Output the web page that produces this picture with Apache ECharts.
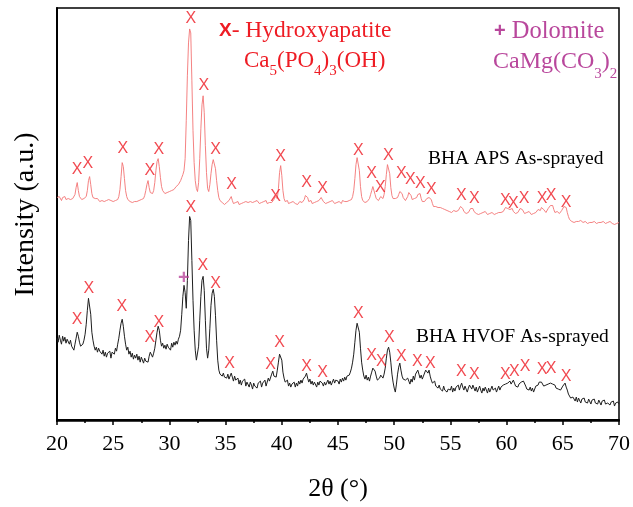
<!DOCTYPE html>
<html><head><meta charset="utf-8">
<script src="https://cdn.jsdelivr.net/npm/echarts@6/dist/echarts.min.js"></script>
<style>html,body{margin:0;padding:0;background:#fff}#c{width:633px;height:507px}</style>
</head><body><div id="c"></div><script>
// 2θ sampling grid (degrees)
const thetaStart = 20, thetaStep = 0.1;
// BHA APS As-sprayed intensity (a.u.), one value per 0.1°, 20°..70°
const apsIntensity = [
223,221,224,222,220,223,222,224,221,223,
222,224,221,223,222,221,226,233,238,230,
224,222,221,223,222,221,224,230,240,244,
236,227,223,221,222,220,222,221,219,221,
220,222,219,221,220,218,221,219,220,222,
219,221,220,222,221,224,231,244,258,254,
242,230,224,221,220,219,221,218,220,219,
217,219,218,220,218,221,219,222,225,230,
236,240,233,228,226,227,230,238,250,259,
262,254,243,234,230,228,227,229,228,230,
229,231,230,232,231,233,234,233,236,238,
240,243,246,250,262,300,345,378,392,388,
340,290,258,240,232,229,238,262,292,316,
325,308,275,248,232,229,236,247,256,261,
262,252,240,230,223,220,219,218,217,216,
216,218,217,220,222,224,220,217,216,218,
217,219,216,218,217,215,218,216,219,217,
218,216,219,217,218,216,219,217,220,218,
217,219,218,216,219,218,220,217,219,218,
219,218,220,221,224,222,222,232,248,255,
245,230,222,219,218,220,217,219,218,217,
219,218,217,219,216,218,219,217,218,220,
221,225,227,223,219,218,220,217,219,218,
217,219,218,220,221,223,221,219,218,217,
219,218,217,219,218,220,218,217,219,218,
217,219,218,217,220,218,219,217,219,218,
220,219,221,224,230,242,256,263,264,250,
234,224,220,219,218,220,219,221,222,226,
230,234,232,226,222,221,220,222,224,223,
222,226,234,246,256,258,247,233,225,222,
221,222,223,223,226,229,231,227,223,221,
220,222,224,228,229,225,221,220,222,224,
223,226,228,227,222,219,218,219,221,222,
222,223,224,221,217,214,213,214,212,213,
212,213,211,212,210,211,212,210,211,209,
210,208,209,210,208,209,208,210,212,214,
215,212,209,208,207,209,208,210,212,211,
212,209,209,207,208,206,208,207,209,208,
207,209,208,206,208,207,209,208,207,206,
208,207,209,208,206,208,207,209,211,213,
214,212,210,211,213,212,209,208,207,209,
208,210,212,213,211,209,207,206,208,207,
209,207,206,208,207,209,208,210,211,212,
210,213,214,211,209,208,210,212,214,215,
216,215,211,208,207,209,208,207,209,210,
212,214,215,213,208,204,201,200,199,200,
198,200,199,197,199,198,200,199,198,197,
199,198,197,199,198,200,198,197,199,198,
197,199,198,196,198,197,199,198,197,199,
198,197,199,198,197,198,196,198,197,199,
198];
// BHA HVOF As-sprayed intensity (a.u.), one value per 0.1°, 20°..70°
const hvofIntensity = [
82,78,85,80,76,84,79,83,77,81,
79,76,80,74,72,70,76,82,88,84,
78,74,72,76,80,86,96,110,122,123,
106,88,80,74,70,73,68,72,69,71,
66,70,64,68,63,67,65,69,62,68,
70,66,72,69,76,82,90,97,101,94,
84,76,70,73,66,69,63,67,61,65,
62,66,60,64,58,63,61,57,62,59,
61,58,64,68,66,63,67,72,80,88,
94,90,80,74,77,72,75,71,76,73,
74,70,77,73,78,75,79,76,81,84,
90,106,124,135,128,112,140,180,204,200,
160,120,90,70,60,58,74,100,124,140,
144,130,100,72,62,70,92,115,127,131,
124,105,80,60,50,46,48,44,47,43,
45,42,46,41,44,47,43,39,44,40,
38,42,36,40,35,39,37,41,34,38,
36,33,38,35,31,37,34,36,32,37,
35,39,33,37,36,40,34,38,42,39,
41,46,49,44,46,43,50,58,66,68,
60,48,42,38,36,40,34,37,33,36,
35,38,33,37,34,39,36,40,37,41,
39,44,47,42,38,41,36,39,35,38,
36,33,38,35,39,41,37,34,38,35,
37,40,36,39,35,38,41,37,40,38,
39,36,41,38,42,39,43,40,44,46,
45,48,52,58,66,78,90,97,98,88,
72,58,50,44,41,45,40,43,39,44,
48,52,54,49,44,40,38,42,45,43,
42,46,52,62,70,73,68,58,46,38,
32,28,36,46,53,57,50,44,41,43,
40,38,42,39,36,41,38,44,40,46,
48,50,46,42,45,41,44,46,50,48,
47,50,44,40,37,35,39,34,36,32,
35,31,33,29,34,30,32,28,31,33,
30,34,28,32,29,33,31,35,30,34,
37,33,30,34,31,28,32,35,34,31,
35,32,29,33,28,31,34,30,27,32,
29,33,30,27,32,28,31,34,30,29,
32,28,31,34,30,33,31,35,33,36,
34,37,35,39,36,38,40,37,34,36,
33,36,35,38,36,39,37,34,31,33,
30,33,29,32,28,31,34,36,35,38,
36,38,37,34,32,35,33,36,38,37,
39,36,38,35,32,34,31,33,30,32,
34,36,37,33,30,26,24,22,20,23,
21,19,23,18,22,20,17,21,19,22,
18,20,17,21,19,16,20,18,21,17,
19,16,20,18,15,19,17,20,16,18,
17,19,15,18,16,19,14,17,15,18,
16];
// Hydroxyapatite peak marks [2θ, label height]
const apsPeakMarks = [[21.78,251],[22.75,257],[25.86,272],[28.26,250],[29.06,271],[31.90,402],[33.06,335],[34.12,271],[35.54,236],[39.45,224],[39.89,264],[42.20,238],[43.62,232],[46.82,270],[47.98,247],[48.77,233],[49.48,265],[50.64,247],[51.44,241],[52.33,237],[53.30,231],[55.97,225],[57.12,222],[59.88,220],[60.59,217],[61.56,222],[63.16,222],[63.96,225],[65.29,218]];
const hvofPeakMarks = [[21.78,101],[22.84,132],[25.77,114],[28.26,83],[29.06,98],[31.90,213],[32.97,155],[34.12,137],[35.36,57],[39.01,56],[39.80,78],[42.20,54],[43.62,48],[46.82,107],[47.98,65],[48.86,59],[49.57,83],[50.64,64],[52.06,59],[53.21,57],[55.97,49],[57.12,46],[59.88,46],[60.68,49],[61.65,54],[63.16,51],[63.96,52],[65.29,44]];
// Dolomite peak mark
const dolomiteMarks = [[31.28,142]];
// x-axis ticks
const xMin = 20, xMax = 70, xInterval = 5;

const grid2 = (arr) => arr.map((v, i) => [+(thetaStart + i * thetaStep).toFixed(2), v]);
const RED = '#ee1c24', PURPLE = '#b9479c';
const serif = 'Liberation Serif';

const chart = echarts.init(document.getElementById('c'), null, {renderer: 'canvas'});
const markLabel = (txt, color, size, weight) => ({
  show: true, position: 'inside', formatter: txt, color: color,
  fontSize: size, fontWeight: weight, fontFamily: 'Liberation Sans'
});
chart.setOption({
  animation: false,
  backgroundColor: '#fff',
  grid: {left: 57, right: 13, top: 8, bottom: 85, show: true, borderColor: '#000', borderWidth: 1.5},
  xAxis: {
    type: 'value', min: xMin, max: xMax, interval: xInterval,
    axisLine: {lineStyle: {color: '#000', width: 2}},
    axisTick: {inside: false, length: 5, lineStyle: {color: '#000', width: 1.5}},
    minorTick: {show: true, splitNumber: 2, length: 3, lineStyle: {color: '#000', width: 1.5}},
    axisLabel: {margin: 12, fontSize: 22, fontFamily: serif, color: '#000'},
    splitLine: {show: false},
    name: '2θ (°)', nameLocation: 'middle', nameGap: 55,
    nameTextStyle: {fontSize: 26, fontFamily: serif, color: '#000'}
  },
  yAxis: {
    type: 'value', min: -1, max: 413,
    axisLine: {show: true, lineStyle: {color: '#000', width: 2}},
    axisTick: {show: false}, axisLabel: {show: false}, splitLine: {show: false},
    name: 'Intensity (a.u.)', nameLocation: 'middle', nameGap: 17,
    nameTextStyle: {fontSize: 28, fontFamily: serif, color: '#000'}
  },
  series: [
    {type: 'line', data: grid2(apsIntensity), showSymbol: false, sampling: 'none',
     lineStyle: {color: '#f37474', width: 0.9}, z: 2},
    {type: 'line', data: grid2(hvofIntensity), showSymbol: false, sampling: 'none',
     lineStyle: {color: '#1e1e1e', width: 1}, z: 2},
    {type: 'scatter', data: apsPeakMarks.concat(hvofPeakMarks), symbolSize: 1,
     itemStyle: {color: 'rgba(0,0,0,0)'}, label: markLabel('X', RED, 16, 'normal'), z: 3},
    {type: 'scatter', data: dolomiteMarks, symbolSize: 1,
     itemStyle: {color: 'rgba(0,0,0,0)'}, label: markLabel('+', PURPLE, 20, 'bold'), z: 3}
  ],
  graphic: [
    {type: 'text', left: 219, top: 19, style: {
      text: '{b|X}{m|- Hydroxyapatite}',
      rich: {b: {fontFamily: 'Liberation Sans', fontWeight: 'bold', fontSize: 19, fill: RED},
             m: {fontFamily: serif, fontSize: 23.5, fill: RED}}}},
    {type: 'text', left: 244, top: 49, style: {
      text: '{m|Ca}{s|5}{m|(PO}{s|4}{m|)}{s|3}{m|(OH)}',
      rich: {m: {fontFamily: serif, fontSize: 23, fill: RED, verticalAlign: 'top'},
             s: {fontFamily: serif, fontSize: 15, fill: RED, verticalAlign: 'bottom', lineHeight: 30}}}},
    {type: 'text', left: 494, top: 19, style: {
      text: '{b|+}{m| Dolomite}',
      rich: {b: {fontFamily: 'Liberation Sans', fontWeight: 'bold', fontSize: 20, fill: PURPLE},
             m: {fontFamily: serif, fontSize: 24.5, fill: PURPLE}}}},
    {type: 'text', left: 493, top: 50, style: {
      text: '{m|CaMg(CO}{s|3}{m|)}{s|2}',
      rich: {m: {fontFamily: serif, fontSize: 24, fill: PURPLE, verticalAlign: 'top'},
             s: {fontFamily: serif, fontSize: 15, fill: PURPLE, verticalAlign: 'bottom', lineHeight: 32}}}},
    {type: 'text', left: 428, top: 149, style: {text: 'BHA APS As-sprayed', fontFamily: serif, fontSize: 19.5, fill: '#000'}},
    {type: 'text', left: 416, top: 327, style: {text: 'BHA HVOF As-sprayed', fontFamily: serif, fontSize: 19.5, fill: '#000'}}
  ]
});
</script></body></html>
